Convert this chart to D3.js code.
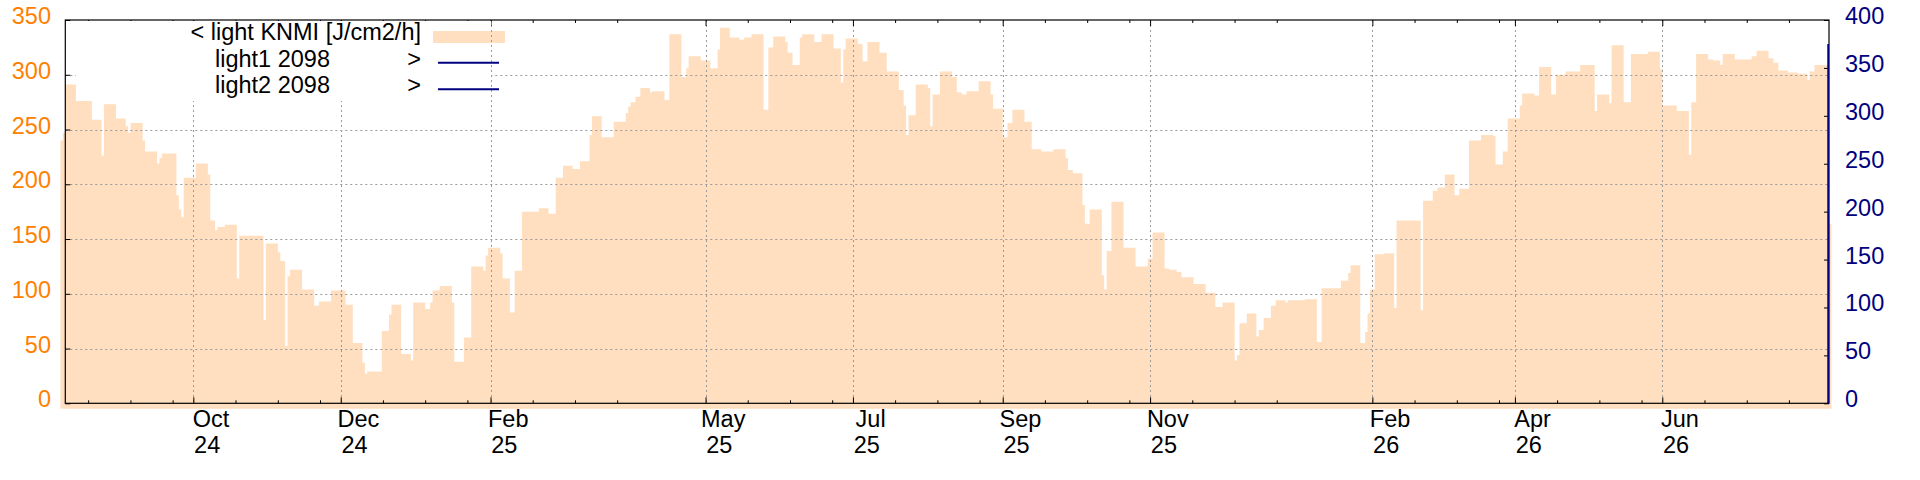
<!DOCTYPE html>
<html><head><meta charset="utf-8">
<script src="https://cdn.jsdelivr.net/npm/d3@7"></script>
<style>
body{margin:0;background:#fff}
svg{display:block}
text{font-family:"Liberation Sans",Arial,sans-serif;font-size:23.5px}
</style>
</head><body>
<svg id="chart" width="1920" height="480"></svg>
<script>
// ---- data ----
const startDate = "2024-08-09";
const endDate = "2026-08-09";
// day offsets (from startDate) at which each step of the KNMI light series begins
const stepDay = [-2,-1,0,6,11,15,16,21,25,26,27,32,33,38,39,40,46,47,48,49,54,59,60,62,63,66,71,72,82,83,88,89,91,92,93,98,103,105,110,116,119,123,124,125,131,134,135,139,143,144,149,151,152,155,160,161,165,168,173,174,175,180,181,184,186,189,196,200,203,206,210,213,217,218,222,227,232,233,234,236,238,242,243,248,250,255,257,258,263,267,270,271,275,279,281,284,289,291,293,298,299,301,304,305,310,313,318,321,322,323,328,330,332,337,340,345,347,348,349,352,357,358,359,362,367,369,371,373,378,383,384,388,390,392,397,400,404,409,414,415,417,421,422,424,429,430,431,433,438,443,448,450,455,457,460,462,467,472,476,479,484,485,486,489,493,494,496,499,501,505,506,513,518,520,528,531,532,536,538,539,540,542,546,550,551,561,562,566,568,571,575,577,581,586,591,592,595,597,602,603,608,610,615,617,621,627,633,634,639,640,645,648,655,660,661,667,672,673,675,680,682,685,686,691,698,700,705,707,709,713,717,721,722,724,730];
// light KNMI [J/cm2/h] value of each step
const lightKNMI = [240,247,291,279,259,226,273,260,253,247,256,240,230,219,224,228,190,177,170,206,219,209,167,158,161,163,114,153,76,146,138,130,52,116,122,104,89,93,103,90,55,37,27,29,66,81,90,45,39,92,86,92,103,107,92,38,60,125,121,135,142,137,114,83,121,175,178,173,206,217,214,221,245,262,243,257,265,271,275,280,288,284,285,277,337,298,306,317,313,306,323,343,334,332,334,337,268,325,335,330,320,309,334,337,330,337,324,293,323,333,328,312,330,320,303,286,272,245,263,291,288,253,282,303,298,284,282,285,294,282,269,243,256,268,257,232,230,232,224,213,210,181,164,177,117,104,139,184,142,125,132,156,123,122,120,115,109,101,88,92,39,44,73,82,61,67,78,89,94,92,94,95,56,105,112,119,126,55,65,82,104,136,137,87,167,85,185,194,197,209,190,196,240,245,244,218,230,260,272,283,281,307,282,300,303,309,267,282,274,327,275,319,321,305,272,267,227,275,319,314,313,309,319,314,317,322,315,311,304,302,301,295,303,309,164];
const lastStepEnd = 731;
// light1 / light2 2098 (right axis) : only a final rise at the end of the period
const light1Day = [729.2, 729.7, 729.7];
const light1 = [0, 0, 375];
const light2Day = [729.2, 729.7, 729.7];
const light2 = [0, 0, 375];
// axes
const leftTicks = [0,50,100,150,200,250,300,350];
const rightTicks = [0,50,100,150,200,250,300,350,400];
const gridValues = [50,100,150,200,250,300];
const monthTicks = ["2024-10-01","2024-12-01","2025-02-01","2025-05-01","2025-07-01","2025-09-01","2025-11-01","2026-02-01","2026-04-01","2026-06-01"];
const monthNames = ["Oct","Dec","Feb","May","Jul","Sep","Nov","Feb","Apr","Jun"];
const yearNames = ["24","24","25","25","25","25","25","26","26","26"];
const minorBases = ["2024-08-01","2024-10-01","2024-12-01","2025-02-01","2025-05-01","2025-07-01","2025-09-01","2025-11-01","2026-02-01","2026-04-01","2026-06-01"];
const minorStepDays = 17.47;
const legendLabels = ["< light KNMI [J/cm2/h]","light1 2098","light2 2098"];

// ---- layout ----
const L = 65.3, R = 1829, T = 20, B = 403.3;
const ORANGE = "#ff8000", NAVY = "#000080", GRID = "#9a9a9a";
const parse = d3.utcParse("%Y-%m-%d");
const t0 = parse(startDate);
const dayToDate = d => new Date(t0.getTime() + d * 864e5);

const x = d3.scaleUtc().domain([t0, parse(endDate)]).range([L, R]);
const yL = d3.scaleLinear().domain([0, 350]).range([B, T]);
const yR = d3.scaleLinear().domain([0, 400]).range([B, T]);

const svg = d3.select("#chart");

// area (fillsteps, transparent orange, unclipped like the original)
const pts = stepDay.map((d, i) => ({d, v: lightKNMI[i]}));
pts.push({d: lastStepEnd, v: lightKNMI[lightKNMI.length - 1]});
const area = d3.area()
  .curve(d3.curveStepAfter)
  .x(p => x(dayToDate(p.d)))
  .y0(yL(-5))
  .y1(p => yL(p.v));
svg.append("path").datum(pts).attr("d", area)
  .attr("fill", ORANGE).attr("fill-opacity", 0.25);

// grid
const g = svg.append("g").attr("stroke", GRID).attr("stroke-width", 1).attr("stroke-dasharray", "2,3");
monthTicks.forEach(m => {
  const xx = Math.round(x(parse(m))) + 0.5;
  g.append("line").attr("x1", xx).attr("x2", xx).attr("y1", T).attr("y2", B);
});
gridValues.forEach(v => {
  const yy = Math.round(yL(v)) + 0.5;
  g.append("line").attr("x1", L).attr("x2", R).attr("y1", yy).attr("y2", yy);
});

// axes via d3 (ticks drawn inward, no domain path)
function styleAxis(sel){ sel.select(".domain").remove(); sel.selectAll("text").remove(); sel.selectAll("line").attr("stroke","#000"); }
const majorDates = monthTicks.map(parse);
const minorDates = [];
minorBases.forEach(b => { for (let k = 1; k <= 3; k++) { const dt = d3.utcHour.offset(parse(b), Math.round(k * minorStepDays * 24)); if (x(dt) > L && x(dt) < R) minorDates.push(dt); } });

svg.append("g").attr("transform", `translate(0,${B})`).call(d3.axisTop(x).tickValues(majorDates).tickSize(6)).call(styleAxis);
svg.append("g").attr("transform", `translate(0,${B})`).call(d3.axisTop(x).tickValues(minorDates).tickSize(3)).call(styleAxis);
svg.append("g").attr("transform", `translate(0,${T})`).call(d3.axisBottom(x).tickValues(majorDates).tickSize(6)).call(styleAxis);
svg.append("g").attr("transform", `translate(0,${T})`).call(d3.axisBottom(x).tickValues(minorDates).tickSize(3)).call(styleAxis);
svg.append("g").attr("transform", `translate(${L},0)`).call(d3.axisRight(yL).tickValues(leftTicks).tickSize(5)).call(styleAxis);
svg.append("g").attr("transform", `translate(${R},0)`).call(d3.axisLeft(yR).tickValues(rightTicks).tickSize(5)).call(styleAxis);

// border
svg.append("rect").attr("x", L).attr("y", T).attr("width", R - L).attr("height", B - T)
  .attr("fill", "none").attr("stroke", "#000").attr("stroke-width", 1.2);

// tick labels
svg.append("g").selectAll("text").data(leftTicks).join("text")
  .attr("x", 51).attr("y", d => yL(d) + 4).attr("text-anchor", "end").attr("fill", ORANGE).text(d => d);
svg.append("g").selectAll("text").data(rightTicks).join("text")
  .attr("x", 1845).attr("y", d => yR(d) + 4).attr("text-anchor", "start").attr("fill", NAVY).text(d => d);
const xl = svg.append("g");
majorDates.forEach((d, i) => {
  xl.append("text").attr("x", x(d) + 17.7).attr("y", 426.5).attr("text-anchor", "middle").attr("fill", "#000").text(monthNames[i]);
  xl.append("text").attr("x", x(d) + 13.8).attr("y", 452.5).attr("text-anchor", "middle").attr("fill", "#000").text(yearNames[i]);
});

// legend (opaque key box)
svg.append("rect").attr("x", 76).attr("y", 21).attr("width", 415).attr("height", 80).attr("fill", "#fff");
svg.append("text").attr("x", 421).attr("y", 40).attr("text-anchor", "end").text(legendLabels[0]);
svg.append("rect").attr("x", 433).attr("y", 31).attr("width", 72).attr("height", 12).attr("fill", ORANGE).attr("fill-opacity", 0.25);
[1, 2].forEach((r, i) => {
  const by = 66.5 + i * 26.5;
  svg.append("text").attr("x", 215).attr("y", by).text(legendLabels[r]);
  svg.append("text").attr("x", 421).attr("y", by).attr("text-anchor", "end").text(">");
  svg.append("line").attr("x1", 438).attr("x2", 499).attr("y1", by - 3.8).attr("y2", by - 3.8).attr("stroke", NAVY).attr("stroke-width", 2);
});

// light1 / light2 lines on the right axis
const line = d3.line().x(p => x(dayToDate(p.d))).y(p => yR(p.v));
svg.append("path").datum(light1Day.map((d, i) => ({d, v: light1[i]}))).attr("d", line)
  .attr("fill", "none").attr("stroke", NAVY).attr("stroke-width", 1.5);
svg.append("path").datum(light2Day.map((d, i) => ({d, v: light2[i]}))).attr("d", line)
  .attr("fill", "none").attr("stroke", NAVY).attr("stroke-width", 1.5);
</script>
</body></html>
